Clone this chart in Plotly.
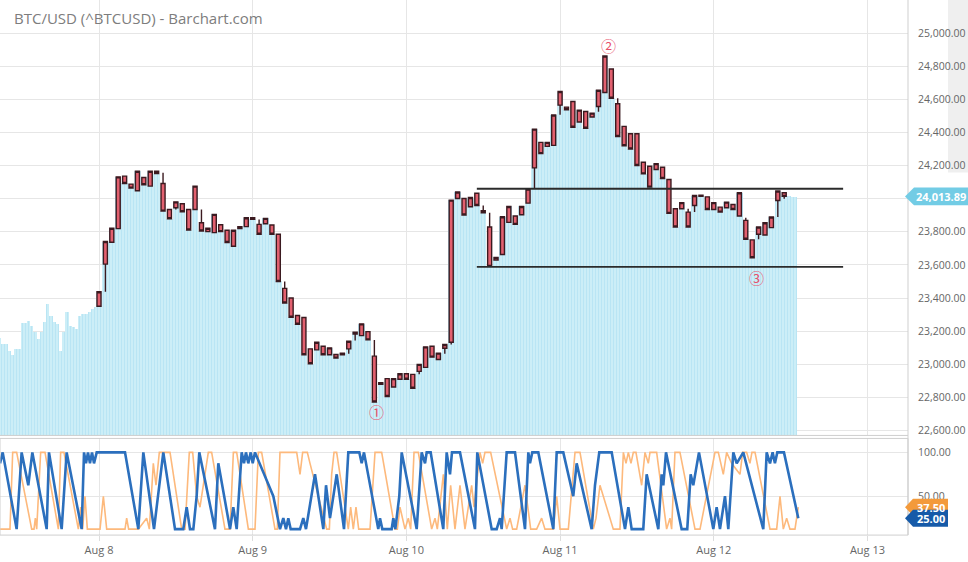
import plotly.graph_objects as go

# ---------------- data ----------------
title_text = "BTC/USD (^BTCUSD) - Barchart.com"

# hourly candles, x = hours since Aug 8 00:00
candle_open = [23350, 23605, 23737, 23819, 24136, 24088, 24048, 24128, 24076, 24166,
               24092, 23935, 23945, 23969, 23935, 23935, 23855, 23801, 23795, 23843,
               23809, 23713, 23819, 23831, 23885, 23845, 23849, 23841, 23785, 23458,
               23400, 23294, 23282, 23093, 23087, 23109, 23057, 23059, 23057, 23093,
               23183, 23173, 23197, 23049, 22879, 22913, 22863, 22909, 22943, 22939,
               22957, 22981, 23109, 23029, 23097, 23133, 24001, 24001, 23951, 24033,
               23927, 23829, 23629, 23663, 23857, 23895, 23903, 23973, 24186, 24340,
               24316, 24322, 24565, 24553, 24587, 24463, 24527, 24493, 24557, 24641,
               24783, 24573, 24437, 24392, 24392, 24220, 24196, 24176, 24190, 24116,
               23939, 23939, 23919, 23959, 24015, 24011, 23935, 23949, 23945, 23965,
               23895, 23869, 23751, 23785, 23781, 23825, 23989, 24036]
candle_high = [23438, 23741, 23821, 24132, 24136, 24088, 24166, 24128, 24166, 24166,
               24156, 23935, 23981, 23969, 23935, 24076, 23935, 23821, 23905, 23843,
               23809, 23809, 23831, 23885, 23885, 23875, 23881, 23841, 23785, 23500,
               23400, 23294, 23282, 23093, 23133, 23109, 23099, 23059, 23067, 23139,
               23193, 23244, 23197, 23147, 22889, 22913, 22913, 22943, 22943, 22939,
               22999, 23105, 23109, 23067, 23119, 23991, 24040, 24001, 24007, 24033,
               23959, 23915, 23645, 23891, 23953, 23895, 23953, 24058, 24420, 24340,
               24340, 24505, 24647, 24553, 24587, 24535, 24527, 24517, 24655, 24862,
               24783, 24607, 24437, 24392, 24392, 24220, 24196, 24212, 24190, 24116,
               23939, 23976, 23939, 24019, 24021, 24011, 23976, 23949, 23979, 23965,
               24036, 23885, 23751, 23829, 23855, 23889, 24046, 24036]
candle_low = [23350, 23438, 23737, 23819, 24092, 24064, 24048, 24084, 24076, 24152,
              23925, 23879, 23935, 23921, 23811, 23935, 23805, 23801, 23795, 23801,
              23735, 23713, 23819, 23831, 23875, 23785, 23849, 23785, 23500, 23370,
              23284, 23242, 23057, 23003, 23087, 23057, 23057, 23037, 23057, 23063,
              23143, 23173, 23147, 22772, 22879, 22805, 22863, 22909, 22909, 22855,
              22939, 22981, 23043, 23029, 23063, 23119, 24001, 23901, 23951, 23959,
              23915, 23591, 23629, 23663, 23857, 23845, 23903, 23973, 24060, 24272,
              24316, 24322, 24507, 24537, 24431, 24463, 24425, 24493, 24525, 24641,
              24607, 24376, 24320, 24300, 24200, 24150, 24070, 24176, 24122, 23911,
              23829, 23939, 23829, 23919, 24015, 23935, 23935, 23919, 23945, 23935,
              23895, 23755, 23643, 23755, 23781, 23825, 23889, 24000]
candle_close = [23438, 23741, 23821, 24132, 24092, 24064, 24166, 24084, 24166, 24152,
                23925, 23879, 23981, 23921, 23811, 24076, 23805, 23821, 23905, 23801,
                23735, 23809, 23831, 23885, 23875, 23785, 23881, 23785, 23500, 23370,
                23284, 23242, 23057, 23003, 23133, 23057, 23099, 23037, 23067, 23139,
                23193, 23244, 23147, 22772, 22889, 22805, 22913, 22943, 22909, 22855,
                22999, 23105, 23043, 23067, 23119, 23991, 24040, 23901, 24007, 23959,
                23915, 23591, 23645, 23891, 23953, 23845, 23953, 24058, 24420, 24272,
                24340, 24505, 24647, 24537, 24431, 24535, 24425, 24517, 24655, 24862,
                24607, 24376, 24320, 24300, 24200, 24150, 24070, 24212, 24122, 23911,
                23829, 23976, 23829, 24019, 24021, 23935, 23976, 23919, 23979, 23935,
                24036, 23755, 23643, 23829, 23855, 23889, 24046, 24013.89]
candle_hours = list(range(len(candle_close)))

# half-hourly price mountain before the first candle and after the last one
early_hours = [-15.5 + 0.5 * i for i in range(31)]
early_price = [23157, 23123, 23123, 23083, 23053, 23093, 23093, 23250, 23250, 23264,
               23234, 23193, 23153, 23193, 23254, 23364, 23294, 23254, 23244, 23083,
               23193, 23314, 23234, 23224, 23214, 23294, 23304, 23304, 23314, 23334,
               23344]
tail_hours = [107.75, 108.25, 108.75]
tail_price = [24014, 24010, 24008]

# drawn support / resistance lines
level_values = [24060, 23588]
level_start = 59.0
level_end = 116.2

# circled markers
mark_text = ["\u2460", "\u2461", "\u2462"]
mark_hours = [43.3, 79.6, 102.7]
mark_price = [22714, 24928, 23526]

# stochastic-style oscillator (turning points)
blue_t = [-15.46, -15.04, -12.86, -12.08, -11.04, -10.41, -8.17, -7.81, -5.83, -5.05,
          -2.71, -2.34, -2.03, -1.72, -1.41, -1.09, -0.78, -0.36, 4.06, 6.14,
          6.92, 8.59, 10.04, 11.87, 13.16, 13.69, 14.21, 14.73, 15.25, 15.66,
          18.11, 18.63, 20.46, 20.97, 21.5, 22.28, 22.64, 22.95, 23.31, 23.69,
          24.0, 24.36, 27.22, 28.26, 28.78, 29.2, 29.56, 29.93, 31.39, 31.9,
          32.32, 33.73, 35.03, 35.45, 36.07, 37.12, 38.26, 38.93, 40.65, 41.02,
          41.38, 43.61, 43.88, 44.24, 45.7, 45.96, 46.27, 46.89, 47.27, 49.61,
          50.39, 50.91, 51.17, 51.79, 53.76, 54.29, 54.81, 55.12, 56.37, 58.71,
          59.07, 61.32, 62.1, 62.62, 62.88, 63.66, 64.96, 66.52, 67.04, 67.3,
          67.66, 68.6, 70.94, 71.47, 72.5, 74.06, 74.59, 76.93, 77.45, 78.12,
          80.06, 82.14, 82.66, 83.18, 84.99, 85.52, 87.34, 87.86, 88.12, 88.54,
          90.98, 91.86, 92.39, 92.8, 93.69, 95.93, 96.45, 96.97, 97.75, 98.27,
          99.05, 99.58, 100.61, 103.73, 104.26, 104.78, 105.19, 105.55, 105.92, 106.96,
          109.2]
blue_v = [87.5, 100, 12.5, 100, 62.5, 100, 12.5, 100, 12.5, 100,
          12.5, 100, 87.5, 100, 87.5, 100, 87.5, 100, 100, 12.5,
          100, 12.5, 100, 12.5, 12.5, 37.5, 12.5, 12.5, 50, 100,
          12.5, 87.5, 12.5, 37.5, 12.5, 100, 87.5, 100, 87.5, 100,
          87.5, 100, 50, 12.5, 25, 12.5, 25, 12.5, 12.5, 25,
          12.5, 75, 12.5, 62.5, 25, 75, 12.5, 100, 100, 87.5,
          100, 12.5, 25, 12.5, 12.5, 25, 12.5, 50, 100, 12.5,
          100, 87.5, 100, 100, 12.5, 100, 75, 100, 100, 12.5,
          100, 12.5, 12.5, 25, 12.5, 100, 100, 12.5, 100, 87.5,
          100, 100, 12.5, 100, 100, 50, 87.5, 12.5, 62.5, 100,
          100, 12.5, 37.5, 12.5, 12.5, 75, 12.5, 75, 62.5, 100,
          12.5, 12.5, 75, 62.5, 100, 12.5, 37.5, 12.5, 50, 12.5,
          100, 87.5, 100, 12.5, 100, 87.5, 100, 87.5, 100, 100,
          25]
orange_t = [-15.46, -13.9, -13.48, -12.86, -10.51, -10.15, -9.94, -9.73, -9.11, -8.43,
            -6.35, -5.99, -5.47, -3.23, -2.86, -2.55, -2.19, -1.82, 0.16, 0.68,
            1.2, 4.06, 4.32, 4.63, 6.14, 7.44, 7.86, 8.48, 8.9, 9.42,
            11.09, 12.91, 13.43, 14.1, 14.63, 15.25, 15.77, 17.07, 17.59, 19.67,
            20.46, 20.98, 21.5, 23.32, 24.36, 24.88, 25.4, 27.48, 27.85, 28.26,
            30.87, 31.39, 31.8, 32.53, 32.95, 35.55, 35.97, 36.33, 36.7, 37.11,
            38.93, 39.3, 39.71, 40.13, 40.55, 42.32, 43.1, 44.14, 46.22, 46.59,
            47.0, 47.78, 48.3, 48.67, 49.19, 49.86, 51.95, 52.47, 52.83, 53.77,
            54.39, 54.91, 55.59, 56.37, 57.15, 58.19, 58.56, 59.49, 59.91, 60.27,
            61.16, 63.66, 64.18, 64.59, 65.22, 66.52, 67.41, 68.34, 69.12, 69.64,
            70.94, 71.47, 71.99, 73.29, 74.33, 75.11, 77.19, 77.61, 78.23, 80.31,
            81.35, 81.88, 82.29, 82.66, 83.07, 83.44, 83.85, 84.74, 85.26, 85.78,
            86.04, 87.08, 88.64, 89.16, 89.42, 89.94, 90.72, 93.07, 93.85, 96.19,
            96.71, 97.49, 98.01, 98.79, 100.09, 100.51, 101.13, 101.65, 101.96, 102.44,
            104.78, 105.82, 106.34, 106.86, 107.38, 107.9, 108.68, 109.2]
orange_v = [12.5, 12.5, 100, 100, 12.5, 12.5, 25, 12.5, 100, 100,
            12.5, 100, 100, 12.5, 37.5, 12.5, 50, 12.5, 12.5, 50,
            12.5, 12.5, 25, 12.5, 12.5, 25, 12.5, 87.5, 62.5, 100,
            100, 12.5, 12.5, 100, 100, 50, 37.5, 100, 100, 12.5,
            12.5, 100, 100, 12.5, 12.5, 100, 100, 12.5, 12.5, 100,
            100, 75, 100, 100, 87.5, 12.5, 12.5, 75, 100, 100,
            12.5, 37.5, 12.5, 37.5, 12.5, 12.5, 100, 100, 12.5, 12.5,
            37.5, 12.5, 25, 12.5, 100, 100, 12.5, 25, 12.5, 75,
            12.5, 62.5, 12.5, 62.5, 12.5, 62.5, 37.5, 100, 87.5, 100,
            100, 12.5, 25, 12.5, 12.5, 62.5, 12.5, 12.5, 25, 12.5,
            12.5, 50, 12.5, 12.5, 100, 100, 12.5, 25, 62.5, 12.5,
            12.5, 100, 87.5, 100, 87.5, 100, 100, 62.5, 100, 87.5,
            100, 100, 12.5, 25, 12.5, 100, 100, 12.5, 12.5, 100,
            100, 75, 100, 87.5, 75, 100, 100, 87.5, 100, 100,
            12.5, 12.5, 50, 12.5, 25, 12.5, 12.5, 37.5]

day_ticks = [0, 24, 48, 72, 96, 120]
day_labels = ["Aug 8", "Aug 9", "Aug 10", "Aug 11", "Aug 12", "Aug 13"]
price_ticks = list(range(22600, 25201, 200))
osc_ticks = [50, 100]

# ---------------- styling / layout constants ----------------
W, H = 968, 562
X_RIGHT = 908 / W
PRICE_DOM = [(H - 437) / H, 1.0]
OSC_DOM = [(H - 537) / H, (H - 440) / H]
X_RANGE = [-15.46, 126.33]
PRICE_RANGE = [22570, 25200]
OSC_RANGE = [5.7, 115.9]
FONT = "Open Sans"
GRID = "#e6e6e6"
CANDLE_FILL = "#e2606f"
CANDLE_LINE = "#3b1a20"
BLUE = "#2b6fbd"
ORANGE = "#fdb97c"

last_close = candle_close[-1]
# the last-price tag sits over the nearest price label, so that label is left blank
hidden_tick = min(price_ticks, key=lambda v: abs(v - last_close))
price_ticktext = ["" if v == hidden_tick else f"{v:,.2f}" for v in price_ticks]

area_pattern = dict(shape="|", fgcolor="#a3dbef", bgcolor="#cfeff8", size=3, solidity=0.4)

fig = go.Figure()
fig.add_trace(go.Bar(x=early_hours + tail_hours, y=early_price + tail_price, width=0.5,
                     marker=dict(color="#cfeff8", line=dict(width=0), pattern=area_pattern),
                     hoverinfo="skip", showlegend=False, xaxis="x", yaxis="y"))
fig.add_trace(go.Bar(x=candle_hours, y=candle_close, width=1.0,
                     marker=dict(color="#cfeff8", line=dict(width=0), pattern=area_pattern),
                     hoverinfo="skip", showlegend=False, xaxis="x", yaxis="y"))
fig.add_trace(go.Candlestick(x=candle_hours, open=candle_open, high=candle_high,
                             low=candle_low, close=candle_close, whiskerwidth=0,
                             increasing=dict(fillcolor=CANDLE_FILL, line=dict(color=CANDLE_LINE, width=1.4)),
                             decreasing=dict(fillcolor=CANDLE_FILL, line=dict(color=CANDLE_LINE, width=1.4)),
                             showlegend=False, xaxis="x", yaxis="y"))
for lv in level_values:
    fig.add_trace(go.Scatter(x=[level_start, level_end], y=[lv, lv], mode="lines",
                             line=dict(color="#2b2b2b", width=1.8), showlegend=False,
                             hoverinfo="skip", xaxis="x", yaxis="y"))
fig.add_trace(go.Scatter(x=orange_t, y=orange_v, mode="lines", line=dict(color=ORANGE, width=1.6),
                         showlegend=False, xaxis="x2", yaxis="y2"))
fig.add_trace(go.Scatter(x=blue_t, y=blue_v, mode="lines", line=dict(color=BLUE, width=2.6),
                         showlegend=False, xaxis="x2", yaxis="y2"))

annotations = [dict(text=title_text, xref="paper", yref="paper", x=12 / W, y=1 - 18 / H,
                    xanchor="left", yanchor="middle", showarrow=False,
                    font=dict(family=FONT, size=15, color="#7d7d7d"))]
for t, hx, py in zip(mark_text, mark_hours, mark_price):
    annotations.append(dict(text=t, x=hx, y=py, xref="x", yref="y", showarrow=False,
                            font=dict(family="Noto Sans CJK JP", size=15, color="#e8506a")))

shapes = [
    dict(type="rect", xref="paper", yref="paper", x0=948 / W, x1=1, y0=1 - 173 / H, y1=1,
         fillcolor="#efefef", line=dict(width=0), layer="below"),
    dict(type="line", xref="paper", yref="paper", x0=X_RIGHT, x1=X_RIGHT, y0=OSC_DOM[0], y1=1,
         line=dict(color="#cfcfcf", width=1)),
    dict(type="line", xref="paper", yref="paper", x0=0, x1=X_RIGHT, y0=PRICE_DOM[0], y1=PRICE_DOM[0],
         line=dict(color="#cfcfcf", width=1)),
    dict(type="rect", xref="paper", yref="paper", x0=0, x1=X_RIGHT, y0=OSC_DOM[0], y1=OSC_DOM[1],
         line=dict(color="#cfcfcf", width=1)),
]


def tag(yref, yc, half, color, text, tip_px, body_px, right_px):
    tip = tip_px / W
    x0 = body_px / W
    x1 = right_px / W
    path = (f"M {tip},{yc} L {x0},{yc + half} L {x1},{yc + half} "
            f"L {x1},{yc - half} L {x0},{yc - half} Z")
    shapes.append(dict(type="path", xref="paper", yref=yref, path=path,
                       fillcolor=color, line=dict(width=0), layer="above"))
    annotations.append(dict(text=f"<b>{text}</b>", xref="paper", yref=yref,
                            x=(x0 + x1) / 2, y=yc, showarrow=False, xanchor="center",
                            yanchor="middle", font=dict(family=FONT, size=11, color="white")))


tag("y", last_close, 9 * (PRICE_RANGE[1] - PRICE_RANGE[0]) / 437, "#72cce5",
    f"{last_close:,.2f}", 905, 914, 968)
osc_px = (OSC_RANGE[1] - OSC_RANGE[0]) / 97
tag("y2", orange_v[-1], 8.5 * osc_px, "#f39a3b", f"{orange_v[-1]:.2f}", 905, 913, 948)
tag("y2", blue_v[-1], 8.5 * osc_px, "#165aa8", f"{blue_v[-1]:.2f}", 905, 913, 948)

tickfont = dict(family=FONT, size=11, color="#666666")
fig.update_layout(
    width=W, height=H, margin=dict(l=0, r=0, t=0, b=0),
    paper_bgcolor="white", plot_bgcolor="white",
    barmode="overlay", bargap=0, boxgap=0.1, showlegend=False,
    xaxis=dict(domain=[0, X_RIGHT], range=X_RANGE, anchor="y", tickvals=day_ticks,
               showticklabels=False, showgrid=True, gridcolor=GRID, zeroline=False,
               rangeslider=dict(visible=False)),
    xaxis2=dict(domain=[0, X_RIGHT], range=X_RANGE, anchor="y2", matches="x",
                tickvals=day_ticks, ticktext=day_labels, showgrid=True, gridcolor=GRID,
                zeroline=False, ticks="outside", ticklen=5, tickcolor="#dddddd",
                tickfont=tickfont),
    yaxis=dict(domain=PRICE_DOM, range=PRICE_RANGE, anchor="x", side="right",
               tickvals=price_ticks, ticktext=price_ticktext, showgrid=True, gridcolor=GRID,
               zeroline=False, tickfont=dict(family=FONT, size=10.5, color="#666666"),
               ticklabelstandoff=9),
    yaxis2=dict(domain=OSC_DOM, range=OSC_RANGE, anchor="x2", side="right",
                tickvals=osc_ticks, tickformat=".2f", showgrid=True, gridcolor=GRID,
                zeroline=False, tickfont=dict(family=FONT, size=10.5, color="#666666"),
                ticklabelstandoff=9),
    annotations=annotations, shapes=shapes,
)

fig.write_html("out.html", config={"displayModeBar": False},
               post_script="document.body.style.margin='0';document.body.style.padding='0';")
